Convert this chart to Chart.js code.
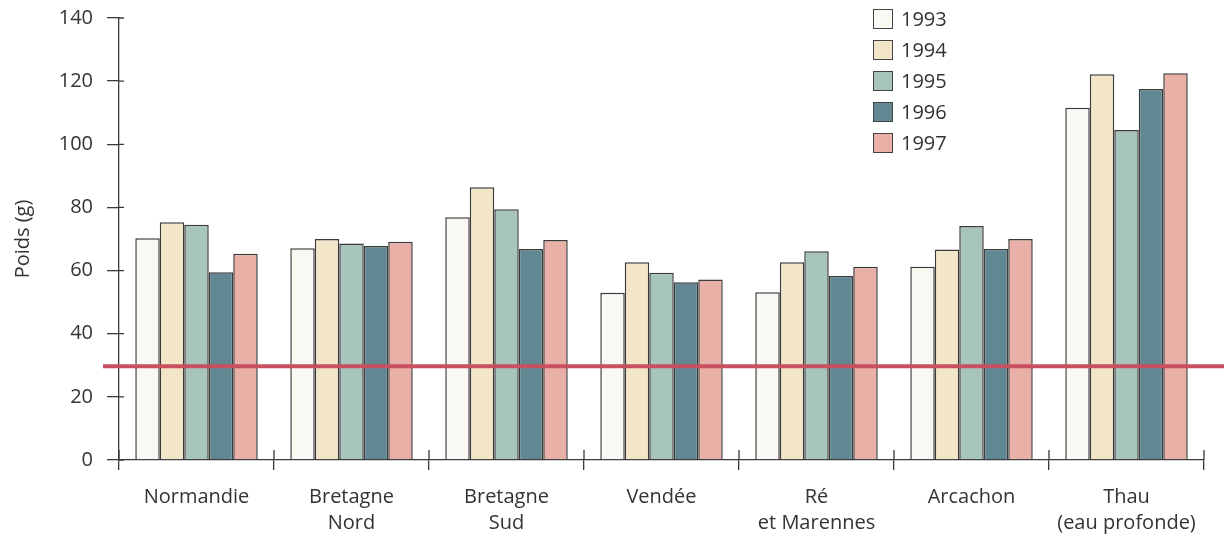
<!DOCTYPE html>
<html lang="fr">
<head>
<meta charset="UTF-8">
<script src="https://cdn.jsdelivr.net/npm/chart.js"></script>
<title>Poids</title>
<style>
  html, body { margin: 0; padding: 0; background: #fff; }
  #wrap { position: relative; width: 1224px; height: 542px; }
  #legend { position: absolute; left: 873px; top: 3px; font-family: "Open Sans", sans-serif;
            font-size: 20px; color: #333; }
  #legend div { height: 31px; display: flex; align-items: center; }
  #legend span.box { width: 20px; height: 20px; border: 1.5px solid #444; margin-right: 8px; box-sizing: border-box; }
</style>
</head>
<body>
<div id="wrap">
  <canvas id="poidsChart" width="1224" height="542"></canvas>
  <div id="legend"></div>
</div>
<script>
// data
var regions = [["Normandie"], ["Bretagne", "Nord"], ["Bretagne", "Sud"], ["Vendée"],
               ["Ré", "et Marennes"], ["Arcachon"], ["Thau", "(eau profonde)"]];
var years = ["1993", "1994", "1995", "1996", "1997"];
var poids1993 = [70.2, 67.1, 76.9, 53.0, 53.1, 61.2, 111.6];
var poids1994 = [75.3, 70.0, 86.4, 62.6, 62.6, 66.7, 122.2];
var poids1995 = [74.5, 68.6, 79.4, 59.3, 66.1, 74.1, 104.5];
var poids1996 = [59.5, 67.8, 66.8, 56.3, 58.3, 66.8, 117.5];
var poids1997 = [65.3, 69.1, 69.7, 57.2, 61.2, 70.0, 122.5];
var seuil = 29.7;
var yTicks = [0, 20, 40, 60, 80, 100, 120, 140];

var colors = ['#faf8f3', '#f3e5c8', '#a8c5bd', '#618793', '#e9b0a8'];
var series = [poids1993, poids1994, poids1995, poids1996, poids1997];

var ink = '#3a3a3a';
var font = { family: '"Open Sans", sans-serif', size: 20, lineHeight: 1.3 };

// tick stubs on the inner side of the axes + red threshold line
var extras = {
    id: 'extras',
    afterDraw: function (chart) {
        var ctx = chart.ctx, x = chart.scales.x, y = chart.scales.y;
        var area = chart.chartArea;
        ctx.save();
        ctx.strokeStyle = ink;
        ctx.lineWidth = 1.3;
        ctx.beginPath();
        yTicks.forEach(function (v) {
            var py = y.getPixelForValue(v);
            ctx.moveTo(area.left, py);
            ctx.lineTo(area.left + 5, py);
        });
        for (var i = 0; i <= regions.length; i++) {
            var px = x.getPixelForValue(i - 0.5);
            ctx.moveTo(px, area.bottom);
            ctx.lineTo(px, area.bottom - 10);
        }
        ctx.stroke();

        var ry = y.getPixelForValue(seuil);
        ctx.strokeStyle = '#c9505e';
        ctx.lineWidth = 4;
        ctx.beginPath();
        ctx.moveTo(area.left - 16, ry);
        ctx.lineTo(chart.width, ry);
        ctx.stroke();
        ctx.restore();
    }
};

var ctx = document.getElementById('poidsChart').getContext('2d');
var chart = new Chart(ctx, {
    type: 'bar',
    data: {
        labels: regions,
        datasets: years.map(function (yr, i) {
            return {
                label: yr, data: series[i], backgroundColor: colors[i],
                borderColor: ink, borderWidth: 1.5,
                categoryPercentage: 0.79, barPercentage: 1.0
            };
        })
    },
    options: {
        responsive: false,
        animation: false,
        layout: { padding: { top: 18, right: 20 } },
        plugins: { legend: { display: false }, tooltip: { enabled: false } },
        scales: {
            x: {
                grid: { offset: true, drawOnChartArea: false, tickLength: 10, color: ink, lineWidth: 1.3 },
                border: { color: ink, width: 1.3 },
                ticks: { color: '#333', font: font, padding: 14, maxRotation: 0, autoSkip: false },
                afterFit: function (s) { s.height = 82; }
            },
            y: {
                min: 0, max: 140,
                afterBuildTicks: function (s) { s.ticks = yTicks.map(function (v) { return { value: v }; }); },
                grid: { drawOnChartArea: false, tickLength: 12, color: ink, lineWidth: 1.3 },
                border: { color: ink, width: 1.3 },
                ticks: { color: '#333', font: font, padding: 14 },
                title: { display: true, text: 'Poids (g)', color: '#333', font: font, padding: { top: 10, bottom: 0 } },
                afterFit: function (s) { s.width = 119; s.paddingTop = 0; s.paddingBottom = 0; }
            }
        }
    },
    plugins: [extras]
});

var legend = document.getElementById('legend');
years.forEach(function (yr, i) {
    var row = document.createElement('div');
    row.innerHTML = '<span class="box" style="background:' + colors[i] + '"></span>' + yr;
    legend.appendChild(row);
});
</script>
</body>
</html>
